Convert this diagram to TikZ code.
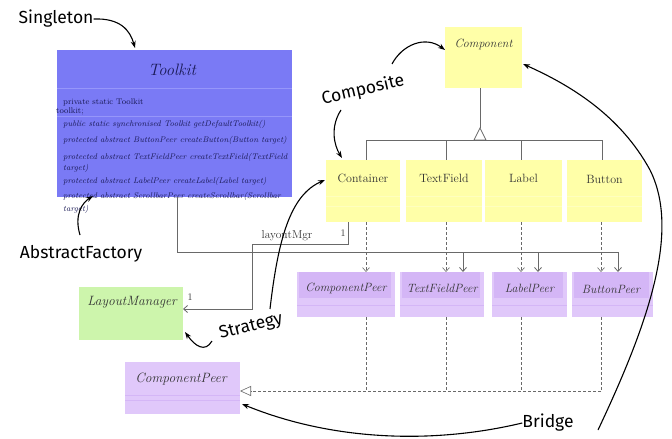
\documentclass[tikz,border=0pt]{standalone}
\usepackage{fontspec}
\newfontfamily\hand{Fira Sans}
\usetikzlibrary{arrows.meta,calc}
\definecolor{tkblue}{RGB}{122,122,245}
\definecolor{tkdiv}{RGB}{150,150,250}
\definecolor{tktext}{RGB}{25,25,85}
\definecolor{ylw}{RGB}{255,255,168}
\definecolor{ylwline}{RGB}{255,255,190}
\definecolor{prp}{RGB}{224,200,250}
\definecolor{prphead}{RGB}{212,182,246}
\definecolor{grn}{RGB}{205,245,172}
\definecolor{umlgray}{RGB}{105,105,105}
\tikzset{
  boxbase/.style={inner sep=0pt, outer sep=0pt, draw=none, anchor=north west},
  tkbox/.style={boxbase, fill=tkblue},
  ybox/.style={boxbase, fill=ylw},
  pbox/.style={boxbase, fill=prp},
  gbox/.style={boxbase, fill=grn},
  boxtext/.style={inner sep=0pt, text=black!80},
  tktxt/.style={inner sep=0pt, anchor=west, text=tktext, font=\fontsize{8.2}{9}\selectfont},
  tkit/.style={tktxt, font=\fontsize{8.2}{9}\selectfont\itshape},
  uml/.style={draw=umlgray, line width=0.8pt},
  openv/.style={-{Straight Barb[length=4pt,width=7pt]}},
  dep/.style={uml, densely dashed, line width=0.6pt},
  hand/.style={inner sep=0pt, font=\hand\fontsize{17.5}{20}\selectfont},
  handarrow/.style={draw=black, line width=1.1pt, -{Stealth[length=7pt,width=5pt]}},
}
\begin{document}
\begin{tikzpicture}[x=1pt,y=-1pt]
\useasboundingbox (0,0) rectangle (672,439);
\fill[white] (0,0) rectangle (672,439);

% ---- Toolkit ----
\node[tkbox, minimum width=235pt, minimum height=147pt] (tk) at (57,50) {};
\draw[tkdiv, line width=0.7pt] (57,88) -- (292,88) (57,116) -- (292,116);
\node[boxtext, text=tktext, font=\fontsize{16.5}{18}\selectfont\itshape] (tktitle) at (172,70) {Toolkit};
\node[tktxt] (t1) at (63,102) {private static Toolkit};
\node[tktxt] (t2) at (56,111) {toolkit;};
\node[tkit] (t3) at (63,124) {public static synchronised Toolkit getDefaultToolkit()};
\node[tkit] (t4) at (63,140) {protected abstract ButtonPeer createButton(Button target)};
\node[tkit] (t5) at (63,157) {protected abstract TextFieldPeer createTextField(TextField};
\node[tkit] (t6) at (63,168) {target)};
\node[tkit] (t7) at (63,181) {protected abstract LabelPeer createLabel(Label target)};
\node[tkit] (t8) at (63,196) {protected abstract ScrollbarPeer createScrollbar(Scrollbar};
\node[tkit] (t9) at (63,209) {target)};

% ---- Component ----
\node[ybox, minimum width=77pt, minimum height=61pt] (comp) at (445,27) {};
\node[boxtext, font=\fontsize{12}{14}\selectfont\itshape] (comptext) at (483.5,44) {Component};

% ---- yellow row ----
\node[ybox, minimum width=74pt, minimum height=62pt] (cont) at (326,160) {};
\node[ybox, minimum width=76pt, minimum height=62pt] (tf) at (406,160) {};
\node[ybox, minimum width=77pt, minimum height=62pt] (lab) at (485,160) {};
\node[ybox, minimum width=75pt, minimum height=62pt] (btn) at (567,160) {};
\foreach \a/\b in {326/400,406/482,485/562,567/642}{
  \draw[ylwline, line width=1pt] (\a,196) -- (\b,196) (\a,206) -- (\b,206);
}
\node[boxtext, font=\fontsize{12}{14}\selectfont] (conttext) at (363,178) {Container};
\node[boxtext, font=\fontsize{12}{14}\selectfont] (tftext) at (444,178) {TextField};
\node[boxtext, font=\fontsize{12}{14}\selectfont] (labtext) at (523.5,178) {Label};
\node[boxtext, font=\fontsize{12}{14}\selectfont] (btntext) at (604.5,179) {Button};

% ---- peers row ----
\node[pbox, minimum width=98pt, minimum height=45pt] (cp) at (297,272) {};
\node[pbox, minimum width=84pt, minimum height=45pt] (tfp) at (400,272) {};
\node[pbox, minimum width=75pt, minimum height=45pt] (lp) at (492,272) {};
\node[pbox, minimum width=81pt, minimum height=45pt] (bp) at (572,272) {};
\foreach \a/\b in {297/395,400/484,492/567,572/653}{
  \fill[prphead] (\a+2,272) rectangle (\b-4,298);
  \draw[prphead, line width=0.6pt] (\a,305) -- (\b,305);
}
\node[boxtext, font=\fontsize{12}{14}\selectfont\itshape] (cptext) at (346,288) {ComponentPeer};
\node[boxtext, font=\fontsize{12}{14}\selectfont\itshape] (tfptext) at (442,288) {TextFieldPeer};
\node[boxtext, font=\fontsize{12}{14}\selectfont\itshape] (lptext) at (529.5,288) {LabelPeer};
\node[boxtext, font=\fontsize{12}{14}\selectfont\itshape] (bptext) at (611,289) {ButtonPeer};

% ---- LayoutManager ----
\node[gbox, minimum width=104pt, minimum height=53pt] (lm) at (79,287) {};
\node[boxtext, font=\fontsize{13.5}{15}\selectfont\itshape] (lmtext) at (132,302) {LayoutManager};

% ---- bottom ComponentPeer ----
\node[pbox, minimum width=115pt, minimum height=52pt] (bcp) at (125,362) {};
\draw[prphead, line width=0.8pt] (125,395) -- (240,395) (125,400) -- (240,400);
\node[boxtext, font=\fontsize{13.5}{15}\selectfont\itshape] (bcptext) at (181,379) {ComponentPeer};

% ---- coordinates ----
\coordinate (dx1) at (366,0);
\coordinate (dx2) at (446,0);
\coordinate (dx3) at (521,0);
\coordinate (dx4) at (601,0);
\coordinate (sx2) at (463,0);
\coordinate (sx3) at (538,0);
\coordinate (bus) at (618,252);
\coordinate (tkx) at (177,0);
\coordinate (gen) at (366,140);
\coordinate (genx) at (480,0);
\coordinate (hl) at (601,391);
\coordinate (c1) at (348,244);
\coordinate (c2) at (252,309);

% ---- generalization to Component ----
\draw[uml] (genx |- comp.south) -- (480,128);
\draw[uml, line join=miter] (480,128) -- (474,140) -- (486,140) -- cycle;
\draw[uml] (gen) -- (602,140);
\draw[uml] (gen) -- (dx1 |- cont.north);
\draw[uml] (dx2 |- gen) -- (dx2 |- tf.north);
\draw[uml] (dx3 |- gen) -- (dx3 |- lab.north);
\draw[uml] (602,140) -- (602,160);

% ---- Toolkit bus ----
\draw[uml, openv] (tkx |- tk.south) |- (bus) -- (bus |- bp.north);
\draw[uml, openv] (sx2 |- bus) -- (sx2 |- tfp.north);
\draw[uml, openv] (sx3 |- bus) -- (sx3 |- lp.north);

% ---- dependencies ----
\draw[dep, openv] (dx1 |- cont.south) -- (dx1 |- cp.north);
\draw[dep, openv] (dx2 |- tf.south) -- (dx2 |- tfp.north);
\draw[dep, openv] (dx3 |- lab.south) -- (dx3 |- lp.north);
\draw[dep, openv] (dx4 |- btn.south) -- (dx4 |- bp.north);
\draw[dep] (dx1 |- cp.south) -- (dx1 |- hl);
\draw[dep] (dx2 |- tfp.south) -- (dx2 |- hl);
\draw[dep] (dx3 |- lp.south) -- (dx3 |- hl);
\draw[dep] (dx4 |- bp.south) -- (hl);
\draw[dep, -{Triangle[open,length=11pt,width=10pt]}, fill=white] (hl) -- (bcp.east |- hl);

% ---- layoutMgr ----
\draw[uml, openv] (c1 |- cont.south) -- (c1) -| (c2) -- (c2 -| lm.east);
\node[boxtext, font=\fontsize{11.5}{13}\selectfont] (lmgr) at (287,236) {layoutMgr};
\node[boxtext, font=\fontsize{10}{11}\selectfont] (one1) at (343,233) {1};
\node[boxtext, font=\fontsize{10}{11}\selectfont] (one2) at (190,297) {1};

% ---- hand annotations ----
\node[hand] (singleton) at (56,19) {Singleton};
\node[hand] (af) at (81,254) {AbstractFactory};
\node[hand, rotate=13] (composite) at (363,90) {Composite};
\node[hand, rotate=14] (strategy) at (251,327) {Strategy};
\node[hand] (bridge) at (548,423) {Bridge};

\draw[handarrow] (singleton.east) .. controls (120,18) and (130,30) .. (135,48);
\draw[handarrow] (80,235) .. controls (74,215) and (82,203) .. (93,196);
\draw[handarrow] (392,64) .. controls (402,45) and (425,35) .. (comp.west |- 0,50);
\draw[handarrow] (341,110) .. controls (330,127) and (334,145) .. (342,158);
\draw[handarrow] (212,341) .. controls (205,353) and (195,346) .. (185,332);
\draw[handarrow] (270,309) .. controls (278,240) and (290,195) .. (325,180);
\draw[handarrow] (bridge.west) .. controls (430,445) and (330,440) .. (242,404);
\draw[handarrow] (598,430) .. controls (650,320) and (680,230) .. (650,170) .. controls (620,115) and (570,85) .. (523,64);
\end{tikzpicture}
\end{document}
